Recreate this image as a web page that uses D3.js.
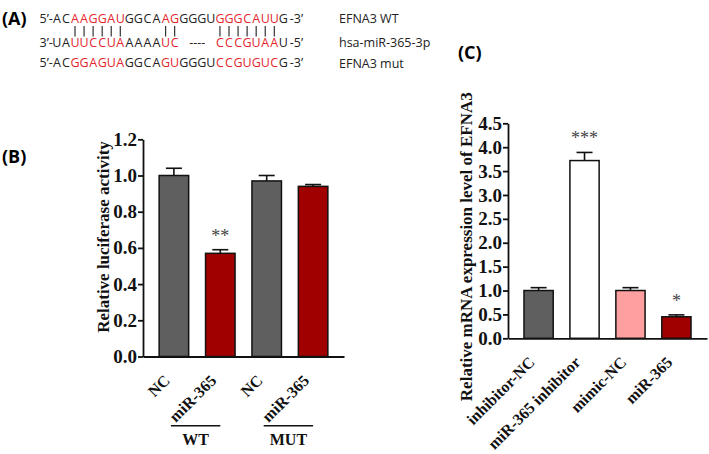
<!DOCTYPE html>
<html>
<head>
<meta charset="utf-8">
<script src="https://cdn.jsdelivr.net/npm/d3@7"></script>
<style>
  body { margin: 0; background: #fff; }
  svg { display: block; }
</style>
</head>
<body>
<svg id="fig" width="709" height="454"></svg>
<script>
// ---- panel A: sequences (paired bases share a column) ----
var seqRows = ["ACAAGGAUGGCAAGGGGUGGGCAUUG", "UAUUCCUAAAAAUC----CCCGUAAU", "ACGGAGUAGGCAGUGGGUCCGUGUCG"];
var seqEnds = [["5’-", "-3’"], ["3’-", "-5’"], ["5’-", "-3’"]];
var seqNames = ["EFNA3 WT", "hsa-miR-365-3p", "EFNA3 mut"];
var pairRuns = [[2, 7], [12, 13], [18, 24]];

// ---- panel B: luciferase ----
var bLabels = ["NC", "miR-365", "NC", "miR-365"];
var bValues = [1.00, 0.57, 0.97, 0.94];
var bErrors = [0.04, 0.02, 0.03, 0.01];
var bStars = ["", "**", "", ""];
var bGroups = [["WT", 0, 1], ["MUT", 2, 3]];
var bTicks = [0, 0.2, 0.4, 0.6, 0.8, 1.0, 1.2];

// ---- panel C: mRNA ----
var cLabels = ["inhibitor-NC", "miR-365 inhibitor", "mimic-NC", "miR-365"];
var cValues = [1.00, 3.72, 1.00, 0.45];
var cErrors = [0.06, 0.17, 0.06, 0.04];
var cStars = ["", "***", "", "*"];
var cTicks = [0, 0.5, 1.0, 1.5, 2.0, 2.5, 3.0, 3.5, 4.0, 4.5];

// styles
var bFill = ["#5f5f5f", "#a00000", "#5f5f5f", "#a00000"];
var cFill = ["#5f5f5f", "#ffffff", "#ff9f9f", "#a00000"];
var red = "#e3262d";
var serif = "'Liberation Serif', 'Times New Roman', serif";
var sans = "'Open Sans', sans-serif";

var svg = d3.select("#fig");

// panel letters
svg.selectAll(".plab")
  .data([["(A)", 2, 25], ["(B)", 2, 163], ["(C)", 458, 59]])
  .enter().append("text")
  .attr("x", function(d) { return d[1]; })
  .attr("y", function(d) { return d[2]; })
  .style("font-family", sans)
  .style("font-weight", "bold")
  .style("font-size", "18px")
  .text(function(d) { return d[0]; });

// ===== panel A =====
var col = d3.scaleLinear().domain([2, 24]).range([75, 274.3]);
var rowBase = [22.5, 47, 67];
var inPair = function(i) {
  return pairRuns.some(function(r) { return i >= r[0] && i <= r[1]; });
};

var gA = svg.append("g").style("font-family", sans).style("font-size", "12.5px");

seqRows.forEach(function(seq, r) {
  var chars = seq.split("");
  gA.selectAll(".ch" + r)
    .data(chars.map(function(c, i) { return {c: c, i: i}; }).filter(function(d) { return d.c !== "-"; }))
    .enter().append("text")
    .attr("x", function(d) { return col(d.i); })
    .attr("y", rowBase[r])
    .attr("text-anchor", "middle")
    .attr("fill", function(d) { return inPair(d.i) ? red : "#222"; })
    .text(function(d) { return d.c; });

  // runs of dashes as one short string
  var dashIdx = chars.map(function(c, i) { return c === "-" ? i : -1; }).filter(function(i) { return i >= 0; });
  if (dashIdx.length) {
    gA.append("text")
      .attr("x", col(d3.mean(dashIdx)))
      .attr("y", rowBase[r])
      .attr("text-anchor", "middle")
      .attr("fill", "#222")
      .text(dashIdx.map(function() { return "-"; }).join(""));
  }

  gA.append("text").attr("x", col(0) - 4).attr("y", rowBase[r])
    .attr("text-anchor", "end").attr("fill", "#222").text(seqEnds[r][0]);
  gA.append("text").attr("x", col(chars.length - 1) + 6.5).attr("y", rowBase[r])
    .attr("fill", "#222").text(seqEnds[r][1]);
  gA.append("text").attr("x", 339).attr("y", rowBase[r] + (r === 2 ? 1 : 0))
    .attr("fill", "#222").text(seqNames[r]);
});

var pairCols = [];
pairRuns.forEach(function(r) { d3.range(r[0], r[1] + 1).forEach(function(i) { pairCols.push(i); }); });
gA.selectAll(".pair")
  .data(pairCols)
  .enter().append("line")
  .attr("x1", function(d) { return col(d); })
  .attr("x2", function(d) { return col(d); })
  .attr("y1", 26)
  .attr("y2", 36.5)
  .attr("stroke", "#333")
  .attr("stroke-width", 1.2);

// ===== bar panel helper =====
function barPanel(opt) {
  var g = svg.append("g");
  var y = d3.scaleLinear().domain(opt.domain).range([opt.y0, opt.y1]);
  var x = d3.scaleBand().domain(d3.range(opt.values.length))
    .range([opt.x0, opt.x1]).paddingInner(0.364).paddingOuter(0.348);
  var bw = x.bandwidth();

  var yAxis = g.append("g")
    .attr("transform", "translate(" + opt.x0 + ",0)")
    .call(d3.axisLeft(y).tickValues(opt.ticks).tickFormat(d3.format(".1f"))
      .tickSize(5).tickSizeOuter(0).tickPadding(1));
  yAxis.selectAll("text")
    .style("font-family", serif).style("font-weight", "bold")
    .style("font-size", "19px").attr("fill", "#111");
  yAxis.selectAll("path, line").attr("stroke", "#111").attr("stroke-width", 1.8);

  g.selectAll(".bar")
    .data(opt.values)
    .enter().append("rect")
    .attr("x", function(d, i) { return x(i); })
    .attr("y", function(d) { return y(d); })
    .attr("width", bw)
    .attr("height", function(d) { return y(0) - y(d); })
    .attr("fill", function(d, i) { return opt.fill[i]; })
    .attr("stroke", "#111")
    .attr("stroke-width", 1.5);

  var eb = g.selectAll(".err").data(opt.values).enter().append("g");
  eb.append("line")
    .attr("x1", function(d, i) { return x(i) + bw / 2; })
    .attr("x2", function(d, i) { return x(i) + bw / 2; })
    .attr("y1", function(d) { return y(d); })
    .attr("y2", function(d, i) { return y(d + opt.errors[i]); })
    .attr("stroke", "#111").attr("stroke-width", 1.6);
  eb.append("line")
    .attr("x1", function(d, i) { return x(i) + bw / 2 - 8; })
    .attr("x2", function(d, i) { return x(i) + bw / 2 + 8; })
    .attr("y1", function(d, i) { return y(d + opt.errors[i]); })
    .attr("y2", function(d, i) { return y(d + opt.errors[i]); })
    .attr("stroke", "#111").attr("stroke-width", 1.6);

  g.selectAll(".star")
    .data(opt.values)
    .enter().append("text")
    .attr("x", function(d, i) { return x(i) + bw / 2; })
    .attr("y", function(d, i) { return y(d + opt.errors[i]) - 8; })
    .attr("text-anchor", "middle")
    .style("font-family", serif)
    .style("font-size", "18px")
    .attr("fill", "#444")
    .text(function(d, i) { return opt.stars[i]; });

  var xAxis = g.append("g")
    .attr("transform", "translate(0," + y(0) + ")")
    .call(d3.axisBottom(x).tickSize(0).tickSizeOuter(0)
      .tickFormat(function(i) { return opt.labels[i]; }));
  xAxis.select("path").attr("stroke", "#111").attr("stroke-width", 1.8);
  xAxis.selectAll("text")
    .attr("x", 0).attr("y", 0).attr("dy", null)
    .attr("text-anchor", "end")
    .attr("transform", "translate(-3,25) rotate(-45)")
    .style("font-family", serif).style("font-weight", "bold")
    .style("font-size", "16px").attr("fill", "#111");

  g.append("text")
    .attr("transform", "translate(" + opt.titleX + "," + opt.titleY + ") rotate(-90)")
    .attr("text-anchor", "middle")
    .style("font-family", serif).style("font-weight", "bold")
    .style("font-size", "17px").attr("fill", "#111")
    .text(opt.title);

  return {g: g, x: x, y: y};
}

var pB = barPanel({
  values: bValues, errors: bErrors, stars: bStars, labels: bLabels, fill: bFill,
  domain: [0, 1.2], ticks: bTicks, y0: 356.5, y1: 139.3, x0: 143, x1: 344,
  title: "Relative luciferase activity", titleX: 108.5, titleY: 237
});

// WT / MUT group brackets
var bw = pB.x.bandwidth();
var grp = pB.g.selectAll(".grp").data(bGroups).enter().append("g");
grp.append("line")
  .attr("x1", function(d) { return pB.x(d[1]) + bw / 2 - 3; })
  .attr("x2", function(d) { return pB.x(d[2]) + bw / 2; })
  .attr("y1", 425.7).attr("y2", 425.7)
  .attr("stroke", "#111").attr("stroke-width", 1.5);
grp.append("text")
  .attr("x", function(d) { return (pB.x(d[1]) + pB.x(d[2])) / 2 + bw / 2 - 1.5; })
  .attr("y", 445)
  .attr("text-anchor", "middle")
  .style("font-family", serif).style("font-weight", "bold")
  .style("font-size", "16px").attr("fill", "#111")
  .text(function(d) { return d[0]; });

barPanel({
  values: cValues, errors: cErrors, stars: cStars, labels: cLabels, fill: cFill,
  domain: [0, 4.5], ticks: cTicks, y0: 338.3, y1: 123.3, x0: 508, x1: 707,
  title: "Relative mRNA expression level of EFNA3", titleX: 471.5, titleY: 246.7
});
</script>
</body>
</html>
